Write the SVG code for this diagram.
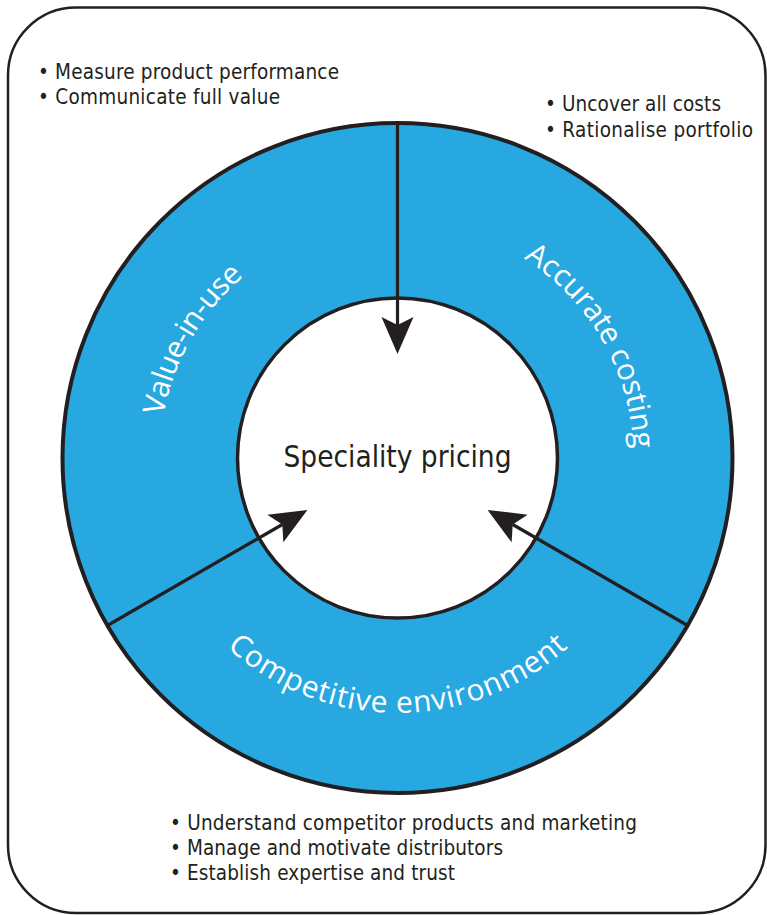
<svg xmlns="http://www.w3.org/2000/svg" xmlns:xlink="http://www.w3.org/1999/xlink" width="767" height="915" viewBox="0 0 767 915">
<style>
.frame{fill:#ffffff;stroke:#231F20;stroke-width:2.5}
.ring{fill:#27A8E0;stroke:#231F20;stroke-width:4}
.hub{fill:#ffffff;stroke:#231F20;stroke-width:3.5}
.conn{stroke:#231F20;stroke-width:3.2;fill:none}
.bul{font-family:"DejaVu Sans Condensed","DejaVu Sans",sans-serif;font-stretch:condensed;font-size:20.5px;fill:#231F20}
.hubt{font-family:"DejaVu Sans Condensed","DejaVu Sans",sans-serif;font-stretch:condensed;font-size:29.5px;fill:#231F20}
.arc{font-family:"Open Sans","Noto Sans",sans-serif;font-size:30px;fill:#ffffff}
</style>
<defs>
<marker id="ah" viewBox="-38 -17 39 34" refX="-29" refY="0" markerWidth="39" markerHeight="34" markerUnits="userSpaceOnUse" orient="auto">
<path d="M0,0 L-37,-16 L-29,0 L-37,16 Z" fill="#231F20"/>
</marker>
<path id="pValue" d="M191.4,577 A238,238 0 0 1 397.5,220"/>
<path id="pCost" d="M397.5,222 A236,236 0 0 1 601.9,576"/>
<path id="pComp" d="M176.7,585.5 A255,255 0 0 0 618.3,585.5"/>
</defs>
<rect class="frame" x="8" y="7.5" width="757.5" height="905.5" rx="68" ry="68"/>
<g id="ring">
<circle class="ring" cx="397.5" cy="458" r="335"/>
</g>
<g id="hub">
<circle class="hub" cx="397.5" cy="458" r="160"/>
<text class="hubt" x="397.5" y="467" text-anchor="middle" textLength="228" lengthAdjust="spacing">Speciality pricing</text>
</g>
<g id="connectors">
<line class="conn" x1="397.5" y1="123" x2="397.5" y2="325" marker-end="url(#ah)"/>
<line class="conn" x1="107.4" y1="625.5" x2="282.3" y2="524.5" marker-end="url(#ah)"/>
<line class="conn" x1="687.6" y1="625.5" x2="512.7" y2="524.5" marker-end="url(#ah)"/>
</g>
<g id="value-in-use">
<text class="arc"><textPath xlink:href="#pValue" href="#pValue" startOffset="50%" text-anchor="middle" textLength="164" lengthAdjust="spacing">Value-in-use</textPath></text>
<text class="bul" x="38" y="79" textLength="301" lengthAdjust="spacing">• Measure product performance</text>
<text class="bul" x="38" y="104" textLength="242" lengthAdjust="spacing">• Communicate full value</text>
</g>
<g id="accurate-costing">
<text class="arc"><textPath xlink:href="#pCost" href="#pCost" startOffset="50%" text-anchor="middle" textLength="228" lengthAdjust="spacing">Accurate costing</textPath></text>
<text class="bul" x="545" y="110.5" textLength="176" lengthAdjust="spacing">• Uncover all costs</text>
<text class="bul" x="545" y="136.5" textLength="208" lengthAdjust="spacing">• Rationalise portfolio</text>
</g>
<g id="competitive-environment">
<text class="arc"><textPath xlink:href="#pComp" href="#pComp" startOffset="50%" text-anchor="middle" textLength="374" lengthAdjust="spacing">Competitive environment</textPath></text>
<text class="bul" x="170" y="830" textLength="467" lengthAdjust="spacing">• Understand competitor products and marketing</text>
<text class="bul" x="170" y="855" textLength="333" lengthAdjust="spacing">• Manage and motivate distributors</text>
<text class="bul" x="170" y="880" textLength="285" lengthAdjust="spacing">• Establish expertise and trust</text>
</g>
</svg>
